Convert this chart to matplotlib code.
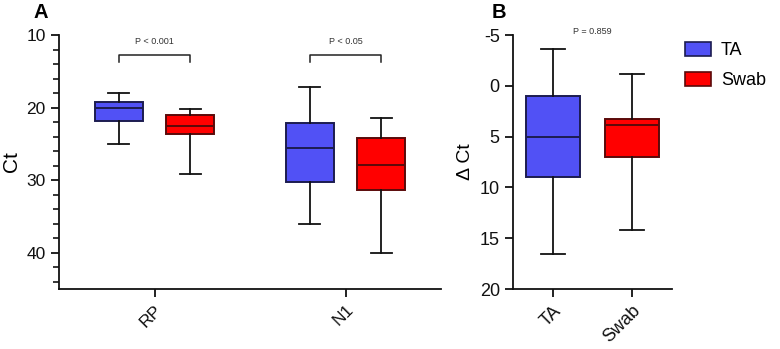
import matplotlib.pyplot as plt

plt.rcParams['font.family'] = ['Liberation Sans', 'DejaVu Sans']
plt.rcParams['axes.unicode_minus'] = False

# Panel A: Ct per target (q1, median, q3, whisker low, whisker high)
targets = ['RP', 'N1']
ta_stats = [(19.2, 20.0, 21.8, 18.0, 25.0), (22.1, 25.6, 30.2, 17.1, 36.1)]
swab_stats = [(21.0, 22.5, 23.6, 20.2, 29.2), (24.2, 27.9, 31.4, 21.4, 40.1)]
p_text_a = ['P < 0.001', 'P < 0.05']

# Panel B: delta Ct
sample_types = ['TA', 'Swab']
dct_stats = [(1.0, 5.0, 9.0, -3.6, 16.6), (3.3, 3.85, 7.0, -1.2, 14.2)]
p_text_b = 'P = 0.859'

BLUE = '#5151f5'
BLUE_EDGE = '#1c1c50'
RED = '#ff0000'
RED_EDGE = '#5a0a0a'


def to_bxp(stats):
    q1, med, q3, lo, hi = stats
    return dict(q1=q1, med=med, q3=q3, whislo=lo, whishi=hi, fliers=[])


def draw_boxes(ax, stats, positions, width, colors, edges, capw):
    for st, pos, fc, ec in zip(stats, positions, colors, edges):
        ax.bxp([to_bxp(st)], positions=[pos], widths=width, patch_artist=True,
               showfliers=False, capwidths=capw,
               boxprops=dict(facecolor=fc, edgecolor=ec, linewidth=1.4),
               medianprops=dict(color=ec, linewidth=1.4),
               whiskerprops=dict(color='#111111', linewidth=1.3),
               capprops=dict(color='#111111', linewidth=1.3),
               manage_ticks=False)


def style_axis(ax, ysize, xsize):
    for s in ['top', 'right']:
        ax.spines[s].set_visible(False)
    for s in ['left', 'bottom']:
        ax.spines[s].set_linewidth(1.3)
        ax.spines[s].set_color('#111111')
    ax.tick_params(axis='both', direction='out', length=6, width=1.3,
                   colors='#111111')
    ax.tick_params(axis='y', labelsize=ysize)
    ax.tick_params(axis='x', labelsize=xsize)
    ax.tick_params(axis='y', which='minor', length=4, width=1.1)


fig = plt.figure(figsize=(7.8, 3.49), dpi=100)

axA = fig.add_axes([59 / 780, 60 / 349, 382 / 780, 254 / 349])
offset = 0.186
draw_boxes(axA, ta_stats, [i - offset for i in range(2)], 0.25,
           [BLUE] * 2, [BLUE_EDGE] * 2, 0.11)
draw_boxes(axA, swab_stats, [i + offset for i in range(2)], 0.25,
           [RED] * 2, [RED_EDGE] * 2, 0.11)
axA.set_xlim(-0.5, 1.5)
axA.set_ylim(45, 10)
axA.set_yticks([10, 20, 30, 40])
axA.set_yticks(range(10, 46, 2), minor=True)
axA.set_xticks(range(2))
axA.set_xticklabels(targets, rotation=45, ha='right', rotation_mode='anchor')
axA.set_ylabel('Ct', fontsize=15, labelpad=4)
style_axis(axA, 12.5, 12.5)
for i, txt in enumerate(p_text_a):
    x0, x1 = i - offset, i + offset
    axA.plot([x0, x0, x1, x1], [13.7, 12.7, 12.7, 13.7], color='#222222', lw=1.1)
    axA.text(i, 10.9, txt, ha='center', va='center', fontsize=6.5, color='#333333')
fig.text(33 / 780, 1 - 12 / 349, 'A', fontsize=14.5, fontweight='bold',
         va='center', ha='left')

axB = fig.add_axes([513 / 780, 60 / 349, 159 / 780, 254 / 349])
draw_boxes(axB, dct_stats, [0, 1], 0.68, [BLUE, RED], [BLUE_EDGE, RED_EDGE], 0.3)
axB.set_xlim(-0.5, 1.5)
axB.set_ylim(20, -5)
axB.set_yticks([-5, 0, 5, 10, 15, 20])
axB.set_xticks([0, 1])
axB.set_xticklabels(sample_types, rotation=45, ha='right', rotation_mode='anchor')
axB.set_ylabel('\u0394 Ct', fontsize=14, labelpad=4)
style_axis(axB, 13, 13)
axB.text(0.5, -5.3, p_text_b, ha='center', va='center', fontsize=6.5, color='#333333')
fig.text(492 / 780, 1 - 12 / 349, 'B', fontsize=14.5, fontweight='bold',
         va='center', ha='left')

handles = [plt.Rectangle((0, 0), 1, 1, facecolor=BLUE, edgecolor=BLUE_EDGE, lw=1.2),
           plt.Rectangle((0, 0), 1, 1, facecolor=RED, edgecolor=RED_EDGE, lw=1.2)]
fig.legend(handles, ['TA', 'Swab'], loc='upper left',
           bbox_to_anchor=(685 / 780, 1 - 42 / 349),
           frameon=False, fontsize=13, handlelength=1.45, handleheight=0.8,
           handletextpad=0.55, labelspacing=0.7, borderaxespad=0, borderpad=0)

fig.savefig('out.png', dpi=100, facecolor='white')
